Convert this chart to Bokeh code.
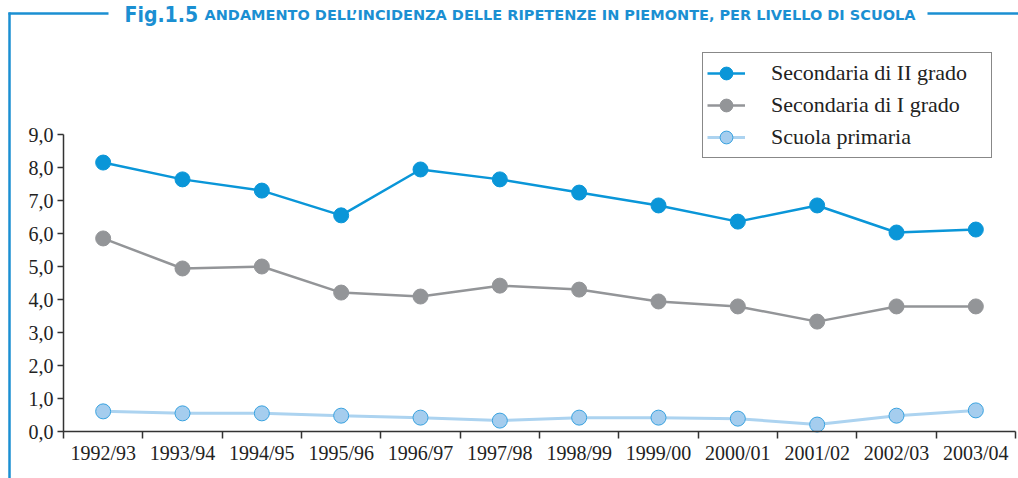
from bokeh.plotting import figure
from bokeh.models import Range1d, FixedTicker, Legend, LegendItem, Label, Arrow
from bokeh.embed import file_html
from bokeh.resources import INLINE

years = ["1992/93", "1993/94", "1994/95", "1995/96", "1996/97", "1997/98",
         "1998/99", "1999/00", "2000/01", "2001/02", "2002/03", "2003/04"]
sec2 = [8.15, 7.64, 7.30, 6.55, 7.94, 7.64, 7.24, 6.85, 6.36, 6.85, 6.03, 6.12]
sec1 = [5.85, 4.94, 5.00, 4.21, 4.09, 4.42, 4.30, 3.94, 3.79, 3.33, 3.79, 3.79]
prim = [0.61, 0.55, 0.55, 0.48, 0.42, 0.33, 0.42, 0.42, 0.39, 0.21, 0.48, 0.64]
y_ticks = [0, 1, 2, 3, 4, 5, 6, 7, 8, 9]
y_labels = ["0,0", "1,0", "2,0", "3,0", "4,0", "5,0", "6,0", "7,0", "8,0", "9,0"]
series_names = ["Secondaria di II grado", "Secondaria di I grado", "Scuola primaria"]
title_fig = "Fig.1.5"
title_text = "ANDAMENTO DELL\u2019INCIDENZA DELLE RIPETENZE IN PIEMONTE, PER LIVELLO DI SCUOLA"

BLUE = "#0a96d8"
GRAY = "#939598"
LIGHT_LINE = "#acd3f0"
LIGHT_FILL = "#a5cdee"
LIGHT_EDGE = "#3aa3e0"
TITLE_BLUE = "#1b8fd2"
SERIF = "Liberation Serif"

W, H = 1018, 478
# plot area in page pixels: x axis from 63 to 1015, y axis from 431 (0) to 134 (9)
X0, X1 = 63, 1015
Y0, Y9 = 431, 134
n = len(years)
px_per_x = (X1 - X0) / n
px_per_y = (Y0 - Y9) / 9.0
x_lo = -0.5 - X0 / px_per_x
x_hi = n - 0.5 + (W - X1) / px_per_x
y_lo = -(H - Y0) / px_per_y
y_hi = 9 + Y9 / px_per_y

x = list(range(n))

p = figure(width=W, height=H, output_backend="svg", toolbar_location=None,
           x_range=Range1d(x_lo, x_hi), y_range=Range1d(y_lo, y_hi))
p.min_border_left = 0
p.min_border_right = 0
p.min_border_top = 0
p.min_border_bottom = 0
p.outline_line_color = None
p.xgrid.visible = False
p.ygrid.visible = False
p.background_fill_color = "white"
p.border_fill_color = "white"

# y axis
ya = p.yaxis[0]
ya.fixed_location = -0.5
ya.bounds = (0, 9)
ya.ticker = FixedTicker(ticks=y_ticks, minor_ticks=[])
ya.major_label_overrides = {t: l for t, l in zip(y_ticks, y_labels)}
ya.axis_line_color = "#333333"
ya.axis_line_width = 1.5
ya.major_tick_line_color = "#333333"
ya.major_tick_line_width = 1.5
ya.major_tick_out = 6
ya.major_tick_in = 0
ya.minor_tick_line_color = None
ya.major_label_text_font = SERIF
ya.major_label_text_font_size = "20px"
ya.major_label_text_color = "#222222"
ya.major_label_standoff = 4

# x axis
xa = p.xaxis[0]
xa.fixed_location = 0
xa.bounds = (-0.5, n - 0.5)
xa.ticker = FixedTicker(ticks=x, minor_ticks=[i - 0.5 for i in range(n + 1)])
xa.major_label_overrides = {i: l for i, l in zip(x, years)}
xa.axis_line_color = "#333333"
xa.axis_line_width = 1.5
xa.major_tick_line_color = None
xa.minor_tick_line_color = "#333333"
xa.minor_tick_line_width = 1.5
xa.minor_tick_out = 7
xa.minor_tick_in = 0
xa.major_label_text_font = SERIF
xa.major_label_text_font_size = "20px"
xa.major_label_text_color = "#222222"
xa.major_label_standoff = 3

# series
l1 = p.line(x, sec2, line_color=BLUE, line_width=2.5)
s1 = p.scatter(x, sec2, size=15, fill_color=BLUE, line_color=BLUE)
l2 = p.line(x, sec1, line_color=GRAY, line_width=2.5)
s2 = p.scatter(x, sec1, size=15, fill_color=GRAY, line_color=GRAY)
l3 = p.line(x, prim, line_color=LIGHT_LINE, line_width=3)
s3 = p.scatter(x, prim, size=15, fill_color=LIGHT_FILL, line_color=LIGHT_EDGE, line_width=1)

legend = Legend(items=[
    LegendItem(label=series_names[0], renderers=[l1, s1]),
    LegendItem(label=series_names[1], renderers=[l2, s2]),
    LegendItem(label=series_names[2], renderers=[l3, s3]),
], location=(702, H - 158))
legend.border_line_color = "#111111"
legend.border_line_width = 1
legend.background_fill_color = "white"
legend.background_fill_alpha = 1
legend.label_text_font = SERIF
legend.label_text_font_size = "22px"
legend.label_text_color = "#222222"
legend.glyph_width = 38
legend.glyph_height = 32
legend.label_height = 32
legend.label_width = 216
legend.label_standoff = 26
legend.spacing = 0
legend.padding = 4
legend.margin = 0
p.add_layout(legend, "center")

# frame lines and title (screen units from the bottom-left corner)
def seg(x0, y0, x1, y1):
    p.add_layout(Arrow(end=None, x_start=x0, y_start=y0, x_end=x1, y_end=y1,
                       start_units="screen", end_units="screen",
                       line_color=TITLE_BLUE, line_width=2.5))

seg(8, H - 13, 108, H - 13)
seg(9, H - 12, 9, -2)
seg(927, H - 13, W + 2, H - 13)

p.add_layout(Label(x=124, y=H - 14, x_units="screen", y_units="screen", text=title_fig,
                   text_font="DejaVu Sans Condensed", text_font_style="bold",
                   text_font_size="21px", text_color=TITLE_BLUE, text_baseline="alphabetic"))
p.add_layout(Label(x=204, y=H - 14, x_units="screen", y_units="screen", text=title_text,
                   text_font="DejaVu Sans", text_font_style="bold",
                   text_font_size="14.5px", text_color=TITLE_BLUE, text_baseline="alphabetic"))

open("out.html", "w").write(file_html(p, INLINE))
